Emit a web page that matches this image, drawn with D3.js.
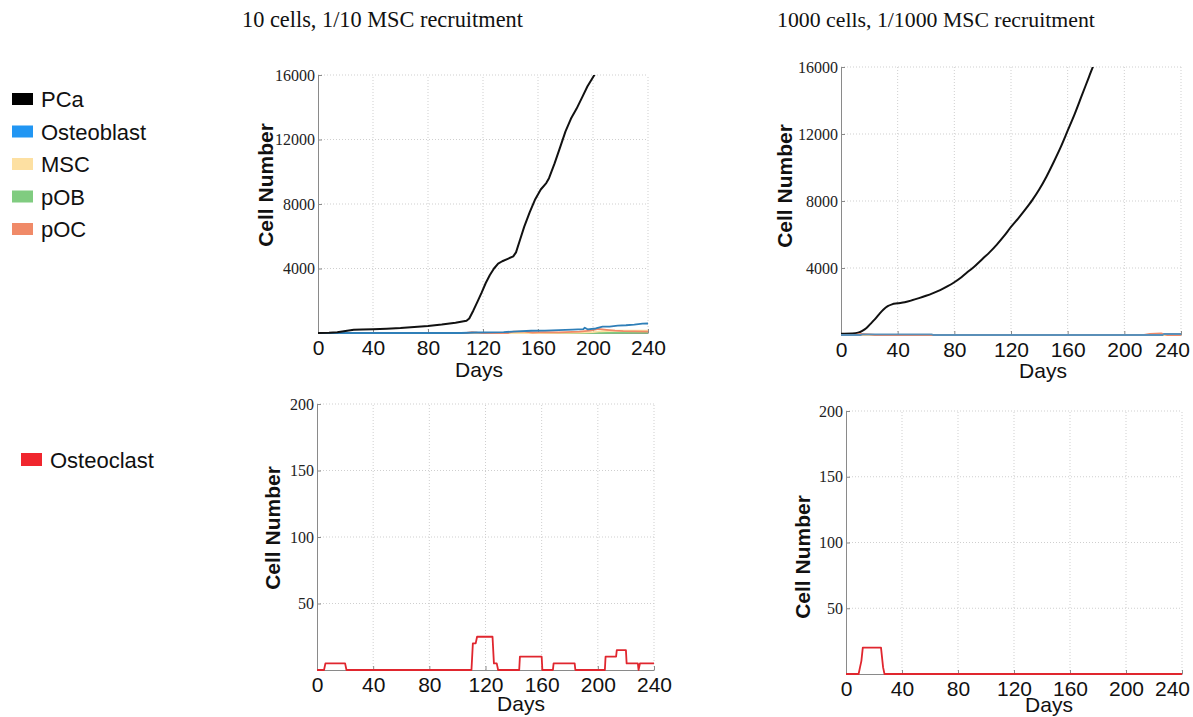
<!DOCTYPE html>
<html>
<head>
<meta charset="utf-8">
<script src="https://cdn.jsdelivr.net/npm/d3@7/dist/d3.min.js"></script>
<style>
  html, body { margin: 0; padding: 0; background: #fff; }
  svg { display: block; }
</style>
</head>
<body>
<svg id="chart" width="1193" height="717"></svg>
<script>
// ---------------- DATA ----------------
const xTicks = [0, 40, 80, 120, 160, 200, 240];
const yTicksTop = [4000, 8000, 12000, 16000];
const yTicksBottom = [50, 100, 150, 200];

const titleLeft = "10 cells, 1/10 MSC recruitment";
const titleRight = "1000 cells, 1/1000 MSC recruitment";

const legendTopNames = ["PCa", "Osteoblast", "MSC", "pOB", "pOC"];
const legendTopColors = ["#000000", "#2196f3", "#fde0a2", "#80cc80", "#f08a68"];
const legendBottomNames = ["Osteoclast"];
const legendBottomColors = ["#f0262e"];

// Left column (10 cells, 1/10 MSC recruitment): [day, cells]
const pcaLeft = [[0,0],[8,10],[14,40],[20,120],[26,200],[32,220],[40,235],[50,270],[60,310],[70,370],[80,430],[90,520],[100,640],[108,760],[110,900],[113,1400],[116,1950],[119,2500],[122,3100],[125,3600],[128,4000],[131,4300],[134,4450],[138,4600],[142,4750],[144,5000],[147,5800],[150,6600],[154,7500],[158,8300],[162,8900],[166,9300],[168,9600],[172,10500],[176,11500],[180,12500],[184,13300],[188,13900],[192,14600],[196,15300],[201,16000],[205,16700]];
const osteoblastLeft = [[0,0],[104,0],[115,30],[125,40],[135,60],[145,100],[155,140],[165,150],[175,180],[185,210],[193,240],[194,330],[196,230],[202,280],[207,390],[212,400],[218,460],[224,480],[230,520],[236,580],[240,590]];
const mscLeft = [[0,0],[160,0],[190,20],[200,60],[206,110],[215,140],[225,150],[240,140]];
const pobLeft = [[0,0],[180,0],[240,20]];
const pocLeft = [[0,0],[108,0],[112,60],[116,20],[120,0],[138,0],[142,80],[150,90],[156,30],[165,60],[175,40],[190,80],[198,150],[204,250],[210,200],[216,150],[222,120],[230,100],[240,90]];
const osteoclastLeft = [[0,0],[5,0],[6,5],[20,5],[21,0],[110,0],[111,20],[113,20],[114,25],[125,25],[126,5],[128,5],[129,0],[144,0],[144.5,10],[160,10],[160.5,0],[168,0],[168.5,5],[183.5,5],[184,0],[205,0],[205.5,10],[213,10],[213.5,15],[220,15],[220.5,5],[228.5,5],[229,0],[230,5],[240,5]];

// Right column (1000 cells, 1/1000 MSC recruitment)
const pcaRight = [[0,80],[8,90],[12,130],[15,250],[18,420],[21,680],[24,950],[27,1250],[30,1520],[33,1720],[36,1830],[40,1890],[45,1960],[50,2070],[55,2200],[60,2340],[65,2500],[70,2680],[75,2900],[80,3150],[85,3450],[90,3800],[95,4150],[100,4550],[105,4950],[110,5400],[115,5900],[120,6450],[125,6950],[130,7480],[135,8050],[140,8700],[145,9450],[150,10300],[155,11200],[160,12200],[165,13200],[170,14300],[175,15400],[180,16500],[185,17700]];
const osteoblastRight = [[0,0],[14,0],[15,40],[64,40],[65,0],[227,0],[228,60],[240,60]];
const mscRight = [[0,0],[240,0]];
const pobRight = [[0,0],[240,0]];
const pocRight = [[0,0],[10,0],[14,60],[20,40],[24,0],[214,0],[218,70],[226,90],[230,0],[240,0]];
const osteoclastRight = [[0,0],[9,0],[10,5],[11,10],[12,20],[25,20],[26.5,5],[27.5,0],[240,0]];

// ---------------- DRAWING ----------------
const svg = d3.select("#chart");
const SANS = "'Liberation Sans', Arial, sans-serif";
const SERIF = "'Liberation Serif', 'Times New Roman', serif";
const W = 1193;

function fitTitle(text, xStart, xEnd, baseline) {
  const t = svg.append("text")
    .attr("x", xStart).attr("y", baseline)
    .attr("font-family", SERIF).attr("font-size", 22)
    .attr("fill", "#111").text(text);
  const len = t.node().getComputedTextLength();
  const target = xEnd - xStart;
  t.attr("font-size", (22 * target / len).toFixed(2));
}
fitTitle(titleLeft, 242, 523, 27);
fitTitle(titleRight, 777, 1095, 27);

let clipId = 0;
function panel(cfg) {
  const x = d3.scaleLinear().domain([0, 240]).range([cfg.x0, cfg.x1]);
  const y = d3.scaleLinear().domain([0, cfg.ymax]).range([cfg.yb, cfg.yt]);
  const g = svg.append("g");

  // grid
  const grid = g.append("g").attr("stroke", "#cfcfcf").attr("stroke-width", 1).attr("stroke-dasharray", "1,2");
  grid.selectAll("line.v").data(xTicks.filter(d => d > 0)).join("line")
    .attr("x1", d => x(d)).attr("x2", d => x(d)).attr("y1", cfg.yb).attr("y2", cfg.yt);
  grid.selectAll("line.h").data(cfg.yTicks).join("line")
    .attr("y1", d => y(d)).attr("y2", d => y(d)).attr("x1", cfg.x0).attr("x2", cfg.x1);

  // axes
  const xAxis = d3.axisBottom(x).tickValues(xTicks).tickFormat(d3.format("d"))
    .tickSizeInner(-4).tickSizeOuter(0).tickPadding(7);
  const gx = g.append("g").attr("transform", `translate(0,${cfg.yb})`).call(xAxis);
  gx.select(".domain").attr("stroke", "#8a8a8a");
  gx.selectAll(".tick line").attr("stroke", "#8a8a8a");
  gx.selectAll(".tick text").attr("font-family", SANS).attr("font-size", 21).attr("fill", "#111")
    .attr("dy", null).attr("y", 22).attr("dominant-baseline", "auto")
    .each(function () {
      // keep the last label inside the page, as in the reference
      const bb = this.getBBox();
      const tx = +this.parentNode.getAttribute("transform").match(/translate\(([-\d.]+)/)[1];
      const right = tx + bb.x + bb.width;
      if (right > W - 3) d3.select(this).attr("x", -(right - (W - 3)));
    });

  const yAxis = d3.axisLeft(y).tickValues(cfg.yTicks).tickFormat(d3.format("d"))
    .tickSizeInner(-4).tickSizeOuter(0).tickPadding(3);
  const gy = g.append("g").attr("transform", `translate(${cfg.x0},0)`).call(yAxis);
  gy.select(".domain").attr("stroke", "#8a8a8a");
  gy.selectAll(".tick line").attr("stroke", "#8a8a8a");
  gy.selectAll(".tick text").attr("font-family", SERIF).attr("font-size", 16).attr("fill", "#222")
    .attr("x", -3);

  // clip
  const id = "clip" + (clipId++);
  svg.append("clipPath").attr("id", id).append("rect")
    .attr("x", cfg.x0).attr("y", cfg.yt).attr("width", cfg.x1 - cfg.x0 + 1).attr("height", cfg.yb - cfg.yt + 1);

  const lines = g.append("g").attr("clip-path", `url(#${id})`);
  cfg.series.forEach(s => {
    const line = d3.line().x(d => x(d[0])).y(d => y(d[1])).curve(s.smooth ? d3.curveMonotoneX : d3.curveLinear);
    lines.append("path").datum(s.data)
      .attr("fill", "none").attr("stroke", s.color).attr("stroke-width", s.width || 1.8)
      .attr("stroke-linejoin", "round").attr("d", line);
  });

  // labels
  g.append("text").attr("transform", `translate(${cfg.ylabX},${cfg.ylabY}) rotate(-90)`)
    .attr("text-anchor", "middle").attr("font-family", SANS).attr("font-weight", "bold")
    .attr("font-size", 21).attr("fill", "#111").text("Cell Number");
  g.append("text").attr("x", cfg.xlabX).attr("y", cfg.xlabY)
    .attr("text-anchor", "middle").attr("font-family", SANS)
    .attr("font-size", 21).attr("fill", "#111").text("Days");
}

const C = legendTopColors;
panel({ x0: 318, x1: 648, yt: 75, yb: 333, ymax: 16000, yTicks: yTicksTop,
  ylabX: 273, ylabY: 185, xlabX: 479, xlabY: 377,
  series: [
    { data: pobLeft, color: C[3] }, { data: mscLeft, color: C[2] },
    { data: pocLeft, color: C[4] }, { data: osteoblastLeft, color: "#2f7fb8" },
    { data: pcaLeft, color: "#111", width: 2 } ] });

panel({ x0: 841, x1: 1181, yt: 67, yb: 335, ymax: 16000, yTicks: yTicksTop,
  ylabX: 792, ylabY: 186, xlabX: 1043, xlabY: 378,
  series: [
    { data: pcaRight, color: "#111", width: 2, smooth: true },
    { data: pobRight, color: C[3] }, { data: mscRight, color: C[2] },
    { data: pocRight, color: C[4] }, { data: osteoblastRight, color: "#5a8fb8" } ] });

panel({ x0: 317, x1: 654, yt: 404, yb: 670, ymax: 200, yTicks: yTicksBottom,
  ylabX: 280, ylabY: 528, xlabX: 521, xlabY: 711,
  series: [ { data: osteoclastLeft, color: "#e0262e", width: 1.8 } ] });

panel({ x0: 846, x1: 1182, yt: 411, yb: 674, ymax: 200, yTicks: yTicksBottom,
  ylabX: 810, ylabY: 557, xlabX: 1049, xlabY: 712,
  series: [ { data: osteoclastRight, color: "#e0262e", width: 1.8 } ] });

// legends
const lt = svg.append("g");
legendTopNames.forEach((n, i) => {
  const yy = 93 + i * 32.5;
  lt.append("rect").attr("x", 12).attr("y", yy).attr("width", 21).attr("height", 12).attr("fill", legendTopColors[i]);
  lt.append("text").attr("x", 41).attr("y", yy + 14).attr("font-family", SANS).attr("font-size", 22)
    .attr("fill", "#111").text(n);
});
legendBottomNames.forEach((n, i) => {
  lt.append("rect").attr("x", 21).attr("y", 453).attr("width", 21).attr("height", 13).attr("fill", legendBottomColors[i]);
  lt.append("text").attr("x", 50).attr("y", 468).attr("font-family", SANS).attr("font-size", 22)
    .attr("fill", "#111").text(n);
});
</script>
</body>
</html>
